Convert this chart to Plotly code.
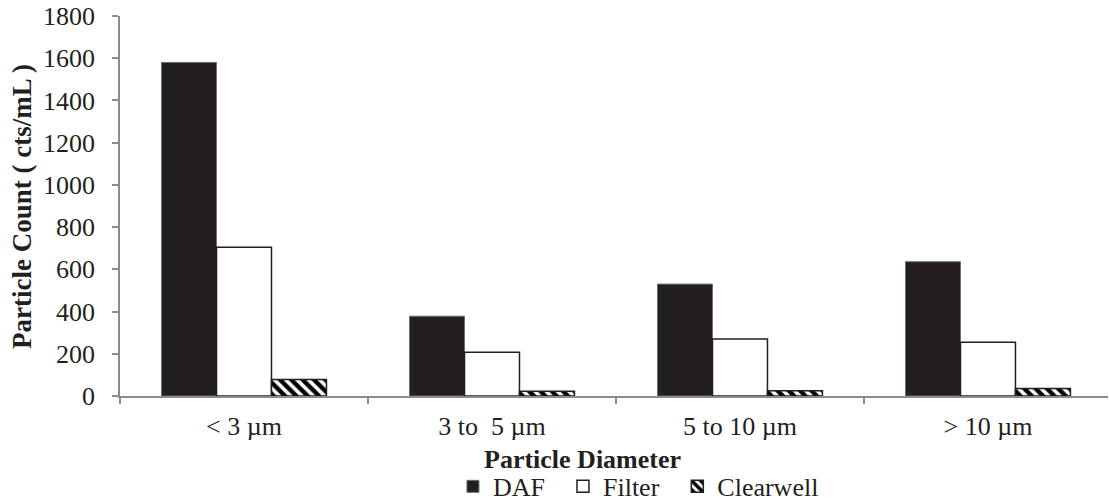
import plotly.graph_objects as go

categories = ["< 3 µm", "3 to  5 µm", "5 to 10 µm", "> 10 µm"]
series_names = ["DAF", "Filter", "Clearwell"]
daf = [1580, 378, 530, 636]
filt = [705, 207, 270, 255]
clearwell = [78, 22, 25, 35]

FONT = "Liberation Serif, Times New Roman, serif"
INK = "#231f20"
AXIS = "#8c8c8c"
PAD = "\u00a0\u00a0"

fig = go.Figure()
fig.add_trace(go.Bar(name=series_names[0] + PAD, x=categories, y=daf,
                     marker=dict(color=INK, line=dict(color="#6d6d6d", width=1))))
fig.add_trace(go.Bar(name=series_names[1] + PAD, x=categories, y=filt,
                     marker=dict(color="white", line=dict(color=INK, width=1.5))))
fig.add_trace(go.Bar(name=series_names[2], x=categories, y=clearwell,
                     marker=dict(color="white", line=dict(color=INK, width=1.5),
                                 pattern=dict(shape="\\", fgcolor="#000000", bgcolor="white",
                                              size=8, solidity=0.55, fgopacity=1))))

fig.update_layout(
    width=1109, height=501,
    margin=dict(l=120, r=1, t=16, b=105, autoexpand=False),
    paper_bgcolor="white", plot_bgcolor="white",
    barmode="group", bargap=0.335, bargroupgap=0,
    font=dict(family=FONT, size=26, color=INK),
    showlegend=True,
    legend=dict(orientation="h", x=0.337, xanchor="left", y=-0.238, yanchor="middle",
                font=dict(family=FONT, size=26, color=INK), itemwidth=30,
                tracegroupgap=0, bgcolor="rgba(0,0,0,0)"),
    xaxis=dict(range=[-0.5, 3.484], showline=True, linecolor=AXIS, linewidth=1.5,
               ticks="outside", tickson="boundaries", ticklen=6, tickcolor=AXIS, tickwidth=1.5,
               showgrid=False, zeroline=False, ticklabelstandoff=6,
               tickfont=dict(family=FONT, size=26, color=INK)),
    yaxis=dict(range=[0, 1800], dtick=200, showline=True, linecolor=AXIS, linewidth=1.5,
               ticks="outside", ticklen=6, tickcolor=AXIS, tickwidth=1.5,
               showgrid=False, zeroline=False, ticklabelstandoff=12,
               tickfont=dict(family=FONT, size=26, color=INK)),
    annotations=[
        dict(text="<b>Particle Diameter</b>", xref="paper", yref="paper",
             x=0.468, y=-0.168, xanchor="center", yanchor="middle", showarrow=False,
             font=dict(family=FONT, size=26, color=INK)),
        dict(text="<b>Particle Count ( cts/mL )</b>", xref="paper", yref="paper",
             x=-0.0992, y=0.5, xanchor="center", yanchor="middle", textangle=-90,
             showarrow=False, font=dict(family=FONT, size=27, color=INK)),
    ],
)

fig.write_html("out.html", config={"displayModeBar": False},
               post_script="document.body.style.margin='0';")
